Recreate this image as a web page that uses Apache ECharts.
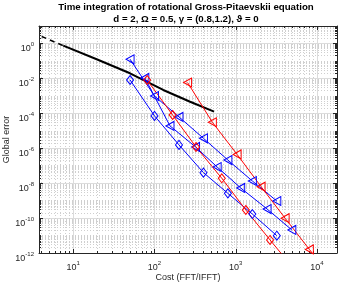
<!DOCTYPE html>
<html><head><meta charset="utf-8">
<script src="https://cdn.jsdelivr.net/npm/echarts@6/dist/echarts.min.js"></script>
<style>html,body{margin:0;padding:0;background:#fff}#c{width:338px;height:285px}</style>
</head><body><div id="c"></div>
<script>
// ---- data (cost in FFT/IFFT, global error) ----
const costBlue = [50, 100, 200, 400, 800, 1600, 3200];
const errBlueDiamond = [8.1e-3, 7.1e-5, 1.55e-6, 4.0e-8, 2.6e-9, 1.7e-10, 9.8e-12];
const errBlueTriA = [1.24e-1, 9.8e-4, 6.2e-5, 3.7e-6, 2.1e-7, 1.33e-8, 9.5e-10];
const costBlueTriB = [76, 155, 320, 590, 1150, 2430, 4900];
const errBlueTriB = [1.06e-2, 1.9e-5, 1.18e-6, 8.4e-8, 5.3e-9, 3.3e-10, 2.1e-11];
const costRedDiamond = [81, 167, 324, 673, 1330, 2640, 5300];
const errRedDiamond = [8.1e-3, 8.0e-5, 1.18e-6, 1.9e-8, 2.9e-10, 5.6e-12, 1.1e-13];
const costRedTri = [255, 515, 1040, 2050, 4050, 8050, 16200];
const errRedTri = [5.8e-3, 3.07e-5, 4.4e-7, 6.3e-9, 9.8e-11, 1.6e-12, 2.8e-14];
const costRefDashed = [4.08, 7.53];
const errRefDashed = [2.52, 0.748];
const costRefSolid = [7.53, 19.4, 49.9, 128, 274, 541];
const errRefSolid = [0.748, 0.124, 0.0196, 2.17e-3, 4.6e-4, 1.24e-4];
const xTickExps = [1, 2, 3, 4];
const yTickExps = [-12, -10, -8, -6, -4, -2, 0];
const titleText = 'Time integration of rotational Gross-Pitaevskii equation\nd = 2, Ω = 0.5, γ = (0.8,1.2), ϑ = 0';
const xName = 'Cost (FFT/IFFT)';
const yName = 'Global error';

// ---- build ----
const L = Math.log10;
const XMIN = 0.578, XMAX = 4.246, YMIN = -12, YMAX = 1;
const FONT = '"Liberation Sans", Arial, Helvetica, sans-serif';
const AX = '#262626';
const xMinor = [], yMinor = [];
for (let n = 0; n <= 4; n++) for (let k = 2; k <= 9; k++) { const v = n + L(k); if (v > XMIN && v < XMAX) xMinor.push(v); }
for (let n = -12; n <= 0; n++) for (let k = 1; k <= 9; k++) {
  const v = n + L(k);
  if (k === 1 && yTickExps.indexOf(n) >= 0) continue;
  if (v > YMIN && v < YMAX) yMinor.push(v);
}
const pts = (xs, ys) => xs.map((x, i) => [L(x), L(ys[i])]);
const rich = {
  b: { fontSize: 9, fontFamily: FONT, color: AX, lineHeight: 12, verticalAlign: 'bottom' },
  s: { fontSize: 6, fontFamily: FONT, color: AX, verticalAlign: 'top' }
};
const fmt = v => '{b|10}{s|' + Math.round(v) + '}';

function axis(dim, pos, ticks, len, line, split, labels, extra) {
  const a = {
    type: 'value', position: pos,
    min: dim === 'x' ? XMIN : YMIN, max: dim === 'x' ? XMAX : YMAX,
    axisLine: { show: line, onZero: false, lineStyle: { color: AX, width: 1 } },
    axisTick: { show: true, inside: true, length: len, customValues: ticks, lineStyle: { color: AX, width: 1 } },
    axisLabel: labels ? Object.assign({ customValues: ticks, formatter: fmt, rich: rich }, labels) : { show: false },
    splitLine: split ? { show: true, lineStyle: split } : { show: false }
  };
  return Object.assign(a, extra || {});
}
const majorGrid = { color: '#dcdcdc', width: 1, type: 'solid' };
const minorGrid = { color: '#cfcfcf', width: 1, type: [1, 2] };

const mk = (name, data, color, symbol, size, extra) => Object.assign({
  name, type: 'line', data, xAxisIndex: 0, yAxisIndex: 0,
  symbol, symbolSize: size, showSymbol: true, clip: true,
  lineStyle: { color, width: 1 },
  itemStyle: { color: 'rgba(0,0,0,0)', borderColor: color, borderWidth: 1 },
  emphasis: { disabled: true }, animation: false, z: 3
}, extra || {});
const triL = 'path://M0,5L10,0L10,10Z';

const option = {
  animation: false,
  backgroundColor: '#fff',
  title: {
    text: titleText, left: 186, top: 1, padding: 0, textAlign: 'center',
    textStyle: { fontFamily: FONT, fontSize: 9.7, fontWeight: 'bold', color: '#000', lineHeight: 12 }
  },
  grid: { left: 39, right: 1, top: 26, bottom: 32, containLabel: false, outerBoundsMode: 'none' },
  xAxis: [
    axis('x', 'bottom', xTickExps, 4, true, majorGrid, { margin: 7 }, {
      name: xName, nameLocation: 'middle', nameGap: 20, nameMoveOverlap: false,
      nameTextStyle: { fontFamily: FONT, fontSize: 9, color: AX }
    }),
    axis('x', 'bottom', xMinor, 2, false, minorGrid, null),
    axis('x', 'top', xTickExps, 4, true, null, null),
    axis('x', 'top', xMinor, 2, false, null, null)
  ],
  yAxis: [
    axis('y', 'left', yTickExps, 4, true, majorGrid, { margin: 5, padding: [8, 0, 0, 0] }, {
      name: yName, nameLocation: 'middle', nameGap: 28, nameMoveOverlap: false,
      nameTextStyle: { fontFamily: FONT, fontSize: 9, color: AX }
    }),
    axis('y', 'left', yMinor, 2, false, minorGrid, null),
    axis('y', 'right', yTickExps, 4, true, null, null),
    axis('y', 'right', yMinor, 2, false, null, null)
  ],
  series: [
    mk('ref dashed', pts(costRefDashed, errRefDashed), '#000', 'none', 0, { lineStyle: { color: '#000', width: 1.5, type: [5, 4] } }),
    mk('ref', pts(costRefSolid, errRefSolid), '#000', 'none', 0, { lineStyle: { color: '#000', width: 2 } }),
    mk('blue diamond', pts(costBlue, errBlueDiamond), '#0000ff', 'diamond', [7, 9]),
    mk('blue tri A', pts(costBlue, errBlueTriA), '#0000ff', triL, [8, 9]),
    mk('blue tri B', pts(costBlueTriB, errBlueTriB), '#0000ff', triL, [8, 9]),
    mk('red diamond', pts(costRedDiamond, errRedDiamond), '#ff0000', 'diamond', [7, 9]),
    mk('red tri', pts(costRedTri, errRedTri), '#ff0000', triL, [8, 9])
  ]
};
const chart = echarts.init(document.getElementById('c'), null, { renderer: 'canvas' });
chart.setOption(option);
</script></body></html>
